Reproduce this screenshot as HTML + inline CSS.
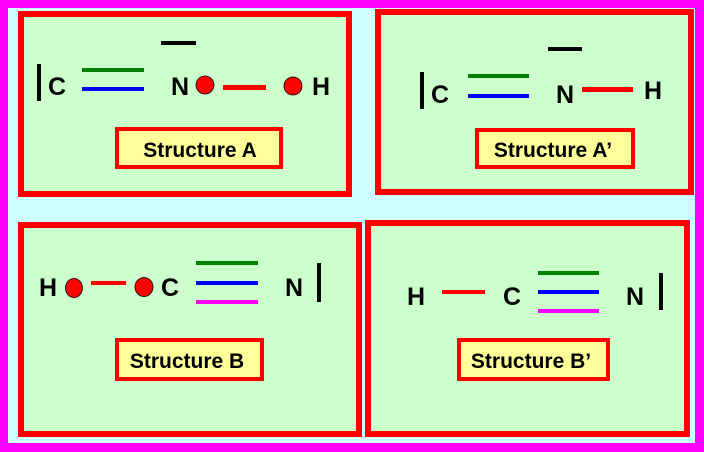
<!DOCTYPE html>
<html><head><style>html,body{margin:0;padding:0;background:#f0f}svg{display:block}text{font-family:"Liberation Sans",sans-serif;font-weight:bold;fill:#000}</style></head>
<body>
<svg width="704" height="452" viewBox="0 0 704 452">
<rect x="0" y="0" width="704" height="452" fill="#f0f"/>
<rect x="8" y="8" width="687" height="435" fill="#ccffff"/>
<!-- Box A -->
<rect x="21" y="14" width="328" height="180" fill="#ccffcc" stroke="#f00" stroke-width="6"/>
<rect x="37" y="64" width="4" height="37" fill="#000"/>
<text x="48" y="95" font-size="25">C</text>
<rect x="82" y="68" width="62" height="4" fill="#008000"/>
<rect x="82" y="87" width="62" height="4" fill="#00f"/>
<rect x="161" y="41" width="35" height="4" fill="#000"/>
<text x="171" y="95" font-size="25">N</text>
<ellipse cx="205" cy="85" rx="9" ry="9" fill="#f00" stroke="#000" stroke-width="0.8"/>
<rect x="223" y="85" width="43" height="5" fill="#f00"/>
<ellipse cx="293" cy="86" rx="9" ry="9" fill="#f00" stroke="#000" stroke-width="0.8"/>
<text x="312" y="95" font-size="25">H</text>
<rect x="117" y="129" width="164" height="38" fill="#ffff99" stroke="#f00" stroke-width="4"/>
<text x="200" y="157" font-size="21" text-anchor="middle">Structure A</text>
<!-- Box A' -->
<rect x="378" y="12" width="313" height="180" fill="#ccffcc" stroke="#f00" stroke-width="6"/>
<rect x="420" y="72" width="4" height="37" fill="#000"/>
<text x="431" y="103" font-size="25">C</text>
<rect x="468" y="74" width="61" height="4" fill="#008000"/>
<rect x="468" y="94" width="61" height="4" fill="#00f"/>
<rect x="548" y="47" width="34" height="4" fill="#000"/>
<text x="556" y="103" font-size="25">N</text>
<rect x="582" y="87" width="51" height="5" fill="#f00"/>
<text x="644" y="99" font-size="25">H</text>
<rect x="477" y="130" width="156" height="37" fill="#ffff99" stroke="#f00" stroke-width="4"/>
<text x="553" y="157" font-size="21" text-anchor="middle">Structure A’</text>
<!-- Box B -->
<rect x="21" y="225" width="338" height="209" fill="#ccffcc" stroke="#f00" stroke-width="6"/>
<text x="39" y="296" font-size="25">H</text>
<ellipse cx="74" cy="288" rx="8.5" ry="9.5" fill="#f00" stroke="#000" stroke-width="0.8"/>
<rect x="91" y="281" width="35" height="4" fill="#f00"/>
<ellipse cx="144" cy="287" rx="9" ry="9.5" fill="#f00" stroke="#000" stroke-width="0.8"/>
<text x="161" y="296" font-size="25">C</text>
<rect x="196" y="261" width="62" height="4" fill="#008000"/>
<rect x="196" y="281" width="62" height="4" fill="#00f"/>
<rect x="196" y="300" width="62" height="4" fill="#f0f"/>
<text x="285" y="296" font-size="25">N</text>
<rect x="317" y="263" width="4" height="39" fill="#000"/>
<rect x="117" y="340" width="145" height="39" fill="#ffff99" stroke="#f00" stroke-width="4"/>
<text x="187" y="368" font-size="21" text-anchor="middle">Structure B</text>
<!-- Box B' -->
<rect x="368" y="223" width="319" height="211" fill="#ccffcc" stroke="#f00" stroke-width="6"/>
<text x="407" y="305" font-size="25">H</text>
<rect x="442" y="290" width="43" height="4" fill="#f00"/>
<text x="503" y="305" font-size="25">C</text>
<rect x="538" y="271" width="61" height="4" fill="#008000"/>
<rect x="538" y="290" width="61" height="4" fill="#00f"/>
<rect x="538" y="309" width="61" height="4" fill="#f0f"/>
<text x="626" y="305" font-size="25">N</text>
<rect x="659" y="273" width="4" height="37" fill="#000"/>
<rect x="459" y="340" width="149" height="39" fill="#ffff99" stroke="#f00" stroke-width="4"/>
<text x="531" y="368" font-size="21" text-anchor="middle">Structure B’</text>
</svg>
</body></html>
